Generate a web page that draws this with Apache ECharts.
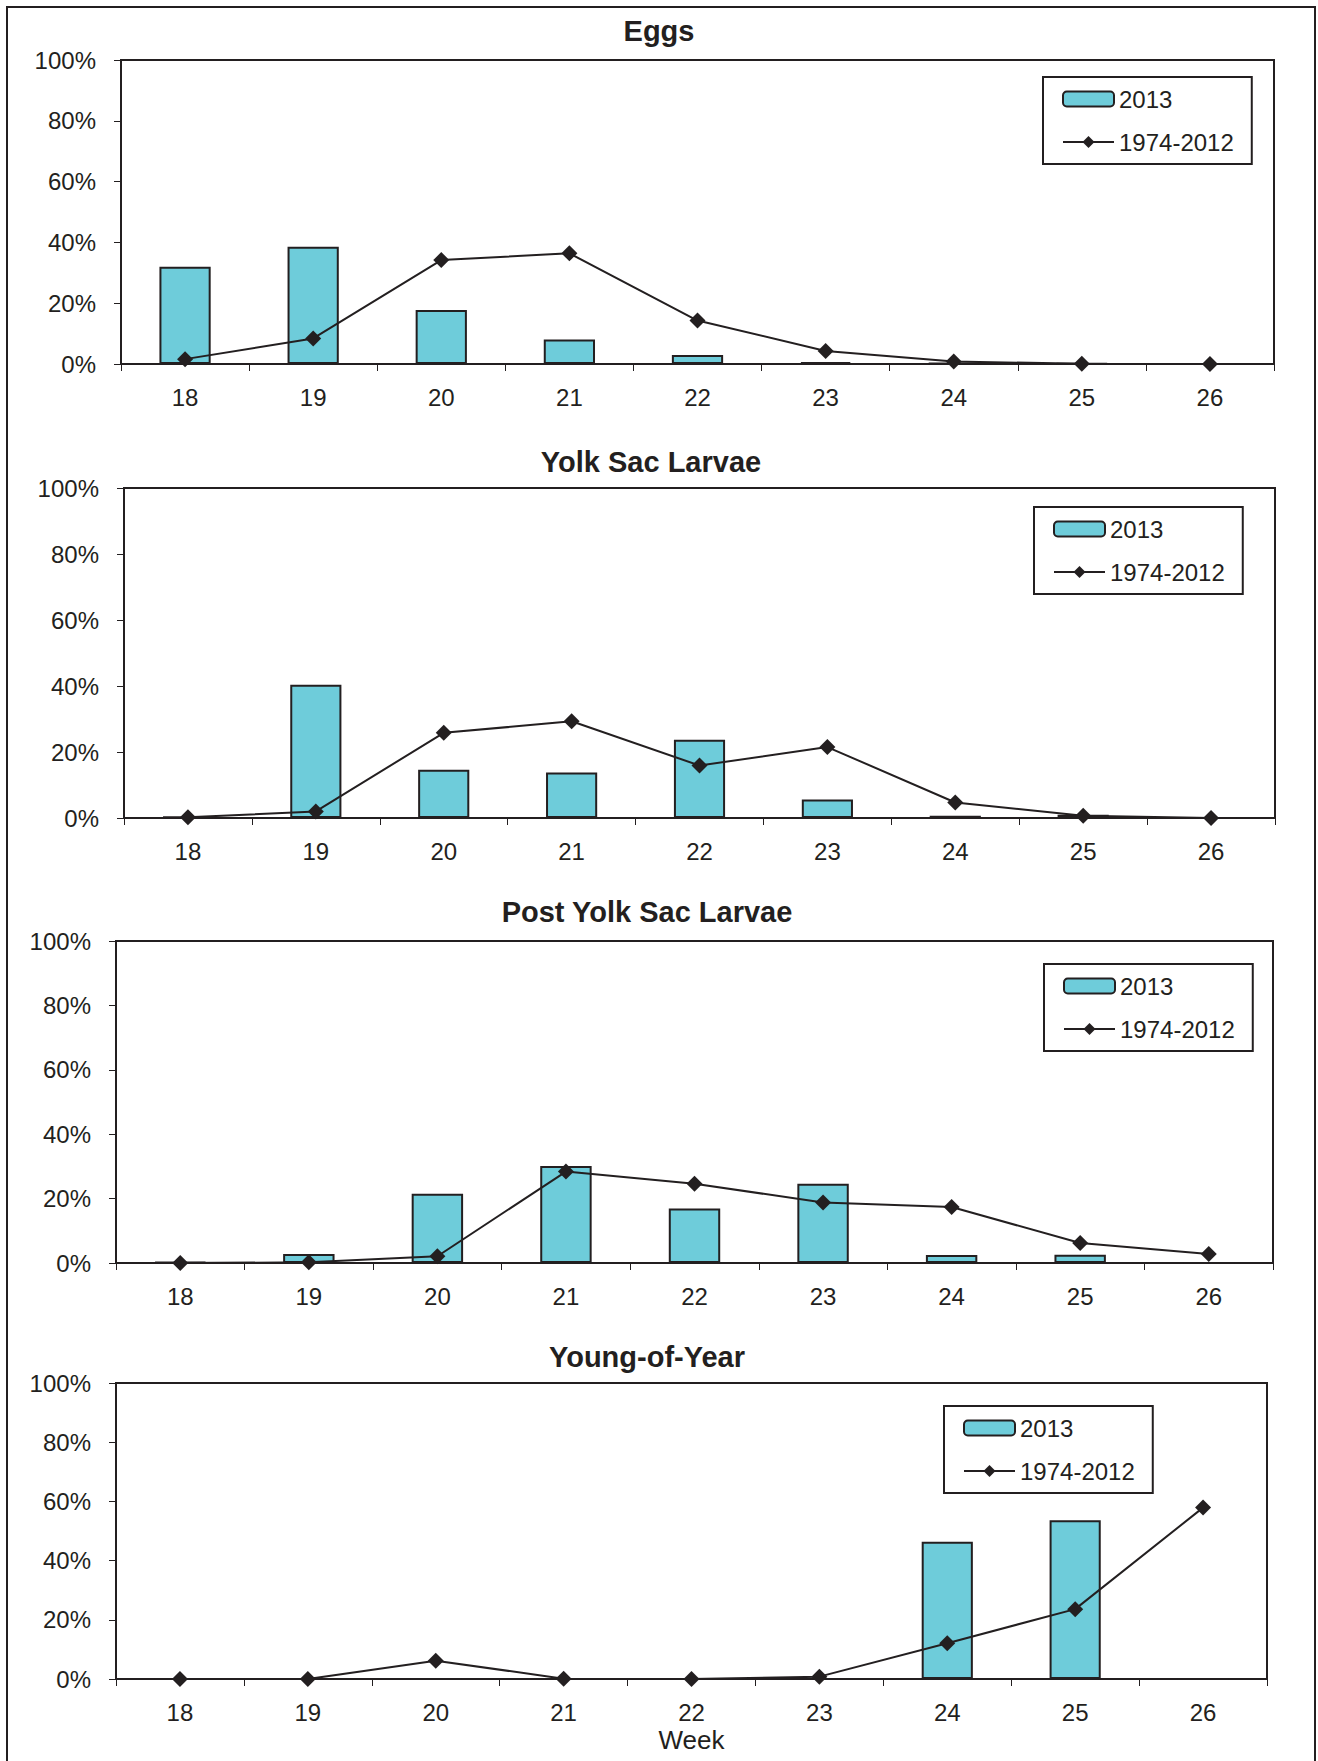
<!DOCTYPE html>
<html>
<head>
<meta charset="utf-8">
<script src="https://cdn.jsdelivr.net/npm/echarts@6/dist/echarts.min.js"></script>
<style>
  html, body { margin: 0; padding: 0; background: #fff; }
  #chart { width: 1318px; height: 1761px; }
</style>
</head>
<body>
<div id="chart"></div>
<script>
// ---- Data (percent of season total, by week) ----
const weeks = ['18', '19', '20', '21', '22', '23', '24', '25', '26'];
const yTicks = [0, 20, 40, 60, 80, 100];

const panelTitles = ['Eggs', 'Yolk Sac Larvae', 'Post Yolk Sac Larvae', 'Young-of-Year'];
const seriesNames = ['2013', '1974-2012'];

const eggs2013 = [32.0, 38.6, 17.8, 8.1, 3.0, 0.6, 0.4, 0.2, 0];
const eggsHist = [1.6, 8.4, 34.2, 36.4, 14.3, 4.3, 0.8, 0.1, 0];

const ysl2013 = [0.4, 40.4, 14.6, 13.8, 23.7, 5.6, 0.7, 1.0, 0];
const yslHist = [0.2, 2.0, 25.8, 29.3, 15.9, 21.5, 4.7, 0.7, 0];

const pysl2013 = [0.3, 2.8, 21.5, 30.1, 16.9, 24.6, 2.5, 2.6, 0];
const pyslHist = [0, 0.2, 2.1, 28.4, 24.6, 18.8, 17.4, 6.2, 2.8];

const yoy2013 = [0, 0, 0, 0, 0, 0, 46.4, 53.6, 0];
const yoyHist = [0, 0, 6.2, 0.1, 0, 0.8, 12.1, 23.6, 57.9];

const bars = [eggs2013, ysl2013, pysl2013, yoy2013];
const lines = [eggsHist, yslHist, pyslHist, yoyHist];

// ---- Layout / style ----
const DARK = '#231F20';
const CYAN = '#6ECCDA';
const FONT = "'Liberation Sans', Arial, sans-serif";

const grids = [
  { left: 121, top: 60,   width: 1153, height: 304 },
  { left: 124, top: 488,  width: 1151, height: 330 },
  { left: 116, top: 941,  width: 1157, height: 322 },
  { left: 116, top: 1383, width: 1151, height: 296 }
];
const titlePos = [[659, 31], [651, 462], [647, 912], [647, 1357]];
const legendPos = [[1043, 77], [1034, 507], [1044, 964], [944, 1406]];

const option = {
  animation: false,
  backgroundColor: '#fff',
  textStyle: { fontFamily: FONT },
  grid: grids.map(g => Object.assign({
    show: true, borderColor: DARK, borderWidth: 2, backgroundColor: 'transparent',
    containLabel: false
  }, g)),
  legend: legendPos.map(([x, y]) => ({
    left: x, top: y, orient: 'vertical',
    data: seriesNames,
    itemWidth: 51, itemHeight: 15, itemGap: 19,
    padding: [10, 18, 10, 19],
    borderColor: DARK, borderWidth: 2, backgroundColor: '#fff',
    selectedMode: false,
    textStyle: { fontSize: 24, color: DARK, fontFamily: FONT }
  })),
  xAxis: grids.map((g, i) => ({
    type: 'category', gridIndex: i, data: weeks,
    boundaryGap: true,
    axisLine: { show: true, onZero: true, lineStyle: { color: DARK, width: 2 } },
    axisTick: { show: true, length: 7, inside: false, alignWithLabel: false, interval: 0,
                lineStyle: { color: DARK, width: 1 } },
    axisLabel: { fontSize: 24, color: DARK, margin: 21, fontFamily: FONT, interval: 0 },
    name: i === 3 ? 'Week' : '',
    nameLocation: 'middle', nameGap: 48,
    nameTextStyle: { fontSize: 26, color: DARK, fontFamily: FONT, padding: [0, 0, 0, 0] }
  })),
  yAxis: grids.map((g, i) => ({
    type: 'value', gridIndex: i, min: yTicks[0], max: yTicks[yTicks.length - 1], interval: 20,
    axisLine: { show: true, lineStyle: { color: DARK, width: 2 } },
    axisTick: { show: true, length: 7, lineStyle: { color: DARK, width: 1 } },
    splitLine: { show: false },
    axisLabel: { fontSize: 24, color: DARK, margin: 25, fontFamily: FONT, formatter: '{value}%' }
  })),
  series: [],
  graphic: [
    { type: 'rect', shape: { x: 7, y: 7, width: 1308, height: 1780 },
      style: { fill: 'none', stroke: DARK, lineWidth: 2 }, z: 100, silent: true }
  ].concat(titlePos.map(([x, y], i) => ({
    type: 'text', x: x, y: y, z: 100, silent: true,
    style: { text: panelTitles[i], fontSize: 29, fontWeight: 'bold', fontFamily: FONT,
             fill: DARK, align: 'center', verticalAlign: 'middle' }
  })))
};

for (let i = 0; i < 4; i++) {
  option.series.push({
    name: seriesNames[0], type: 'bar', xAxisIndex: i, yAxisIndex: i,
    data: bars[i], barWidth: '40%',
    itemStyle: { color: CYAN, borderColor: DARK, borderWidth: 2 },
    z: 2
  });
  option.series.push({
    name: seriesNames[1], type: 'line', xAxisIndex: i, yAxisIndex: i,
    data: lines[i], symbol: 'diamond', symbolSize: 16,
    lineStyle: { color: DARK, width: 2 },
    itemStyle: { color: DARK },
    z: 3
  });
}

const chart = echarts.init(document.getElementById('chart'), null, { renderer: 'svg', width: 1318, height: 1761 });
chart.setOption(option);
</script>
</body>
</html>
